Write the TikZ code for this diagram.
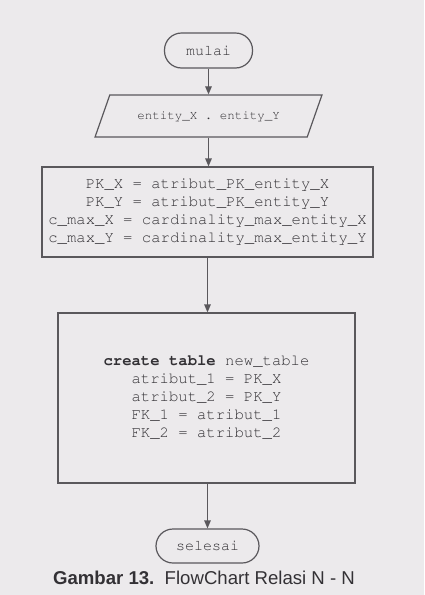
\documentclass[tikz,border=0pt]{standalone}
\usepackage[T1,TU]{fontenc}
\usepackage{fontspec}
\setmainfont{Liberation Sans}
\newcommand{\courf}{\fontencoding{T1}\fontfamily{pcr}\selectfont}
\usetikzlibrary{arrows.meta,shapes.geometric}
\definecolor{pagebg}{HTML}{ECEAEC}
\definecolor{ink}{HTML}{5A585C}
\definecolor{txt}{HTML}{333135}
\tikzset{
  line/.style={draw=ink, line width=1.2pt},
  arr/.style={line, -{Triangle[length=8pt,width=6.5pt]}},
  term/.style={line, rectangle, rounded corners=17pt, inner sep=0pt, text=txt,
    font=\courf\fontsize{15}{17}\selectfont},
  proc/.style={line, rectangle, inner sep=0pt, text=txt,
    font=\courf\fontsize{15.6}{18}\selectfont},
  io/.style={line, trapezium, trapezium left angle=43, trapezium right angle=137,
    trapezium stretches=true, inner sep=0pt, text=txt,
    font=\courf\fontsize{12.5}{14}\selectfont},
  captext/.style={text=txt, font=\fontsize{18.6}{20}\selectfont}
}
\begin{document}
\begin{tikzpicture}[x=1pt,y=1pt]
\fill[pagebg] (0,0) rectangle (424,-595);
\useasboundingbox (0,0) rectangle (424,-595);
\node[term, minimum width=88pt, minimum height=35pt] (mulai) at (208.5,-50.5) {mulai};
\node[io, minimum width=227pt, minimum height=42pt] (input) at (208.5,-116) {entity\_X . entity\_Y};
\node[proc, minimum width=331pt, minimum height=90pt, align=center] (init) at (207.5,-212)
  {PK\_X = atribut\_PK\_entity\_X\\
   PK\_Y = atribut\_PK\_entity\_Y\\
   c\_max\_X = cardinality\_max\_entity\_X\\
   c\_max\_Y = cardinality\_max\_entity\_Y};
\node[proc, minimum width=297pt, minimum height=170pt, align=left] (create) at (206.5,-398)
  {\textbf{create table} new\_table\\
   \phantom{cre}atribut\_1 = PK\_X\\
   \phantom{cre}atribut\_2 = PK\_Y\\
   \phantom{cre}FK\_1 = atribut\_1\\
   \phantom{cre}FK\_2 = atribut\_2};
\node[term, minimum width=103pt, minimum height=34pt] (selesai) at (207.5,-546) {selesai};
\node[captext] (caption) at (204,-578) {\textbf{Gambar 13.}\ \ FlowChart Relasi N - N};
\draw[arr] (mulai.south) -- (mulai.south |- input.north);
\draw[arr] (input.north |- input.south) -- (input.north |- init.north);
\draw[arr] (init.south) -- (init.south |- create.north);
\draw[arr] (selesai.north |- create.south) -- (selesai.north);
\end{tikzpicture}
\end{document}
